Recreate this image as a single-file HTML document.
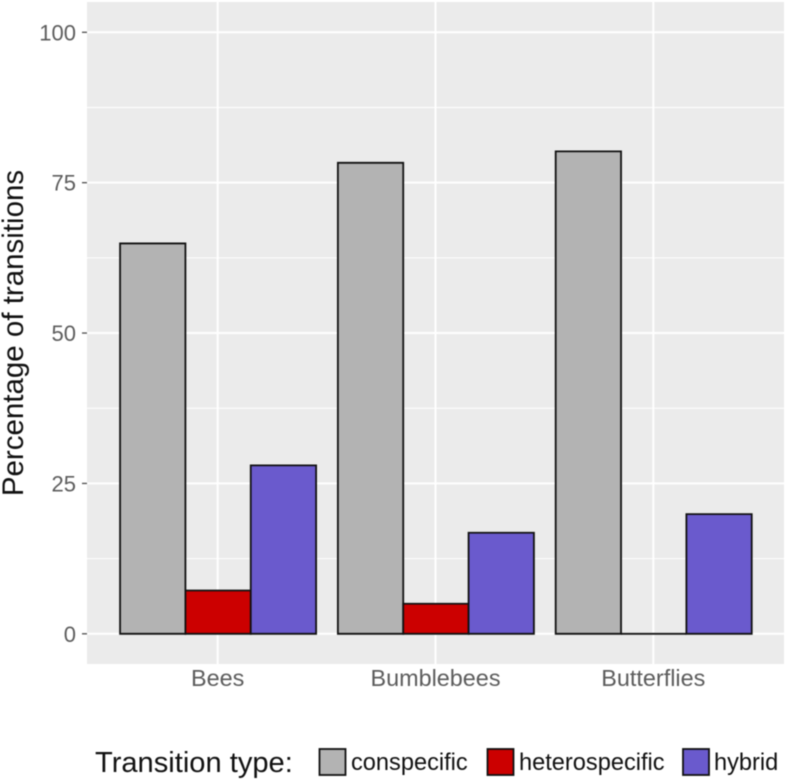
<!DOCTYPE html>
<html>
<head>
<meta charset="utf-8">
<style>
html,body{margin:0;padding:0;background:#fff;width:787px;height:782px;overflow:hidden}
svg{display:block;filter:blur(0.6px)}
text{font-family:"Liberation Sans",sans-serif}
</style>
</head>
<body>
<svg id="chart" width="787" height="782" viewBox="0 0 787 782" xmlns="http://www.w3.org/2000/svg"></svg>
<script>
const categories = ['Bees', 'Bumblebees', 'Butterflies'];
const seriesNames = ['conspecific', 'heterospecific', 'hybrid'];
const conspecific = [64.9, 78.3, 80.2];
const heterospecific = [7.2, 5.0, 0];
const hybrid = [28.0, 16.8, 19.9];
const yTicks = [0, 25, 50, 75, 100];
const yMinorTicks = [12.5, 37.5, 62.5, 87.5];

const seriesValues = [conspecific, heterospecific, hybrid];
const seriesColors = ['#b3b3b3', '#cc0000', '#6a5acd'];
const svg = document.getElementById('chart');
const NS = 'http://www.w3.org/2000/svg';
const panel = {left: 87, right: 784, top: 2, bottom: 664};
const yScale = v => 633.8 - v * 6.015;
const band = (panel.right - panel.left) / (categories.length - 1 + 2 * 0.6);
const xCenter = i => panel.left + (0.6 + i) * band;
const barW = band * 0.9 / seriesNames.length;
const barShift = 0.4;

function make(tag, attrs, parent) {
  const el = document.createElementNS(NS, tag);
  for (const k in attrs) el.setAttribute(k, attrs[k]);
  (parent || svg).appendChild(el);
  return el;
}

const bg = make('rect', {x: panel.left, y: panel.top, width: panel.right - panel.left, height: panel.bottom - panel.top, fill: '#ebebeb'});



yMinorTicks.forEach(t => {
  const l = make('line', {x1: panel.left, x2: panel.right, y1: yScale(t), y2: yScale(t), stroke: '#fff', 'stroke-width': 1});
  
  
});
yTicks.forEach(t => {
  const y = yScale(t);
  const l = make('line', {x1: panel.left, x2: panel.right, y1: y, y2: y, stroke: '#fff', 'stroke-width': 2});
  
  
  const m = make('line', {x1: 82, x2: panel.left, y1: y, y2: y, stroke: '#4d4d4d', 'stroke-width': 1.3});
  
  
  const txt = make('text', {x: 76, y: y + 8, 'text-anchor': 'end', 'font-size': 22, fill: '#5c5c5c'});
  txt.textContent = t;
  
  
});
categories.forEach((c, i) => {
  const x = xCenter(i);
  const l = make('line', {x1: x, x2: x, y1: panel.top, y2: panel.bottom, stroke: '#fff', 'stroke-width': 2});
  
  
  const txt = make('text', {x: x, y: 686, 'text-anchor': 'middle', 'font-size': 23.4, fill: '#5c5c5c'});
  txt.textContent = c;
  
  
});

seriesValues.forEach((vals, s) => {
  vals.forEach((v, i) => {
    const x = xCenter(i) + (s - 1.5) * barW + barShift;
    const y = yScale(v);
    const h = yScale(0) - y;
    const r = make('path', {d: 'M' + x + ' ' + y + 'h' + barW + 'v' + h + 'h' + (-barW) + 'Z', fill: seriesColors[s], stroke: '#111', 'stroke-width': 1.8});
    
    
  });
});

const yTitle = make('text', {transform: 'translate(23,333) rotate(-90)', 'text-anchor': 'middle', 'font-size': 29.5, fill: '#111'});
yTitle.textContent = 'Percentage of transitions';



const legendTitle = make('text', {x: 95, y: 772, 'font-size': 29.1, fill: '#111'});
legendTitle.textContent = 'Transition type:';



const legendKeyX = [319.5, 487.5, 683];
const legendTextX = [351, 519, 714];
seriesNames.forEach((n, s) => {
  const k = make('rect', {x: legendKeyX[s], y: 749, width: 26, height: 26, fill: seriesColors[s], stroke: '#111', 'stroke-width': 1.8});
  
  
  const t = make('text', {x: legendTextX[s], y: 770, 'font-size': 23.6, fill: '#111'});
  t.textContent = n;
  
  
});
</script>
</body>
</html>
